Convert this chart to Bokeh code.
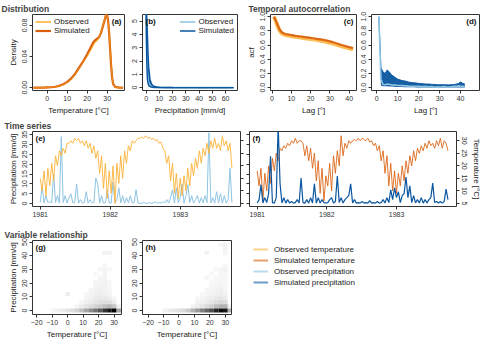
import numpy as np
from bokeh.plotting import figure
from bokeh.layouts import column, row, Spacer
from bokeh.models import (Range1d, LinearAxis, FixedTicker, Label, Legend,
                          LegendItem, PrintfTickFormatter)
from bokeh.embed import file_html
from bokeh.resources import INLINE

FONT = "Liberation Sans"
OBS_T = "#FDB338"
SIM_T = "#D95F0E"
OBS_P = "#8EC4E2"
SIM_P = "#0B56A0"

# ---------------- data ----------------
# (a) temperature density
temp_grid = [-7, -4, -2, 0, 2, 4, 6, 8, 10, 12, 14, 16, 18, 20, 22, 23, 24, 25, 26, 27,
             28, 29, 29.5, 30, 30.5, 31, 31.5, 32, 32.5, 33, 34, 36, 38]
obs_temp_dens = [0, 0, 0, 0.0003, 0.0005, 0.001, 0.002, 0.004, 0.007, 0.011, 0.017, 0.025,
                 0.033, 0.041, 0.05, 0.055, 0.059, 0.061, 0.065, 0.072, 0.081, 0.09, 0.094,
                 0.092, 0.085, 0.07, 0.05, 0.03, 0.014, 0.005, 0.001, 0, 0]
sim_temp_dens = [0, 0, 0, 0.0003, 0.0006, 0.0012, 0.0025, 0.0045, 0.0075, 0.012, 0.018, 0.026,
                 0.034, 0.043, 0.053, 0.058, 0.061, 0.063, 0.065, 0.071, 0.08, 0.089, 0.094,
                 0.093, 0.086, 0.07, 0.049, 0.028, 0.013, 0.005, 0.001, 0, 0]
# (b) precipitation density
prec_grid = [0, 0.5, 1, 1.5, 2, 3, 4, 5, 6, 8, 10, 15, 20, 30, 40, 50, 60, 66]
obs_prec_dens = [5.6, 3.0, 1.2, 0.6, 0.35, 0.18, 0.1, 0.06, 0.04, 0.02, 0.01, 0.005, 0.002,
                 0.001, 0, 0, 0, 0]
sim_prec_dens_lo = [5.6, 2.0, 0.6, 0.3, 0.15, 0.08, 0.04, 0.02, 0.01, 0.005, 0.002, 0, 0,
                    0, 0, 0, 0, 0]
sim_prec_dens_hi = [5.6, 5.4, 4.0, 2.5, 1.5, 0.6, 0.3, 0.15, 0.1, 0.05, 0.02, 0.01, 0.003,
                    0, 0, 0, 0, 0]
# (c), (d) autocorrelation
lags = list(range(1, 43))
obs_acf_temp = [1.0, 0.93, 0.86, 0.8, 0.765, 0.75, 0.74, 0.735, 0.73, 0.725,
                0.72, 0.715, 0.712, 0.708, 0.705, 0.7, 0.697, 0.693, 0.69, 0.685,
                0.68, 0.677, 0.673, 0.668, 0.663, 0.658, 0.652, 0.646, 0.64, 0.633,
                0.626, 0.618, 0.61, 0.6, 0.592, 0.584, 0.576, 0.568, 0.56, 0.553,
                0.546, 0.538]
sim_acf_temp = [1.0, 0.94, 0.875, 0.815, 0.78, 0.765, 0.755, 0.75, 0.745, 0.74,
                0.735, 0.73, 0.727, 0.723, 0.72, 0.716, 0.712, 0.708, 0.704, 0.7,
                0.696, 0.692, 0.688, 0.684, 0.68, 0.676, 0.671, 0.665, 0.659, 0.652,
                0.644, 0.636, 0.628, 0.619, 0.61, 0.601, 0.593, 0.585, 0.578, 0.571,
                0.564, 0.556]
obs_acf_prec = [1.0, 0.12, 0.045, 0.04, 0.05, 0.045, 0.04, 0.035, 0.035, 0.03,
                0.03, 0.028, 0.025, 0.025, 0.022, 0.02, 0.02, 0.018, 0.02, 0.018,
                0.015, 0.015, 0.018, 0.015, 0.012, 0.015, 0.012, 0.01, 0.012, 0.01,
                0.012, 0.015, 0.012, 0.01, 0.012, 0.015, 0.018, 0.02, 0.025, 0.02,
                0.018, 0.015]
sim_acf_prec_hi = [1.0, 0.28, 0.22, 0.2, 0.25, 0.22, 0.18, 0.16, 0.14, 0.12,
                   0.11, 0.1, 0.095, 0.09, 0.08, 0.075, 0.07, 0.068, 0.065, 0.06,
                   0.058, 0.055, 0.052, 0.05, 0.05, 0.048, 0.045, 0.045, 0.042, 0.04,
                   0.042, 0.04, 0.04, 0.038, 0.04, 0.042, 0.045, 0.05, 0.06, 0.08,
                   0.06, 0.05]
sim_acf_prec_lo = [1.0, 0.03, 0.02, 0.02, 0.02, 0.018, 0.015, 0.012, 0.01, 0.01,
                   0.008, 0.008, 0.006, 0.006, 0.005, 0.005, 0.004, 0.004, 0.003, 0.003,
                   0.003, 0.002, 0.002, 0.002, 0.002, 0.001, 0.001, 0.001, 0.001, 0.001,
                   0.001, 0.001, 0.001, 0.001, 0.001, 0.001, 0.001, 0.001, 0.002, 0.002,
                   0.001, 0.001]
# (e), (f) time series, one value per 10 days from 1 Jan 1981
ts_days = np.arange(0, 1010, 10)
obs_temp = [15, 10, 18, 8, 19, 12, 21, 14, 24, 20, 26, 24, 27, 25, 29, 29, 30, 29, 31, 30,
            31, 29, 30, 28, 30, 27, 29, 25, 28, 23, 26, 17, 24, 11, 21, 7, 18,
            9, 20, 5, 21, 13, 24, 15, 26, 21, 28, 26, 30, 29, 30, 31, 31, 31.5, 31, 32,
            31, 31.5, 30.5, 31, 30, 30.5, 29, 29.5, 27, 26, 21, 24, 14, 21, 9, 17, 7,
            15, 8, 16, 10, 19, 12, 21, 16, 23, 19, 26, 21, 27, 24, 29, 25, 30, 27, 31, 27,
            29, 26, 32, 28, 30, 26, 29, 19]
sim_temp = [18, 12, 19, 6, 17, 10, 20, 13, 23, 18, 25, 22, 27, 26, 28, 27, 29, 28, 30, 29,
            31, 29, 30, 30, 29, 24, 28, 22, 27, 19, 25, 14, 22, 9, 19, 6, 16,
            12, 21, 10, 24, 17, 26, 20, 32, 24, 29, 27, 30, 29, 30, 30.5, 30, 31, 30, 31,
            30.5, 30, 31, 29.5, 30, 28, 29, 26, 28, 22, 26, 17, 24, 12, 21, 10, 18,
            9, 17, 12, 20, 14, 22, 17, 24, 20, 26, 22, 27, 25, 28, 26, 29, 27, 30, 28, 29,
            27, 30, 28, 31, 27, 30, 29, 26]
obs_prec = [0.5, 9, 0.3, 4, 0.5, 1, 0.3, 15, 0.5, 4, 0.2, 34, 0.5, 4, 0.3, 3, 5, 0.3, 0.5, 10,
            0.2, 2, 0.2, 0.5, 6, 0.2, 2, 0.3, 0.5, 13, 10, 0.3, 4, 0.2, 0.5, 7, 0.3,
            0.3, 11, 0.5, 2, 8, 0.3, 4, 0.2, 3, 0.3, 4, 0.2, 0.5, 7, 0.3, 0.1, 0.2, 0.5,
            0.1, 0.2, 0.5, 0.1, 0.3, 1, 0.1, 0.5, 0.2, 1, 0.3, 2, 0.2, 3, 7, 0.3, 8, 0.5,
            3, 10, 0.3, 4, 9.6, 0.5, 4, 0.3, 2, 4, 0.2, 3, 0.3, 4, 0.5, 36, 0.3, 3, 0.2, 6,
            0.3, 5, 0.2, 4, 0.3, 2, 18, 0.5]
sim_prec = [0.3, 2, 9.6, 0.3, 3, 0.5, 5, 24, 0.5, 0.2, 3, 40, 10, 0.3, 3, 0.2, 2, 0.3, 1, 0.2,
            0.5, 2, 0.3, 13, 0.5, 0.2, 2, 0.2, 3, 0.3, 10, 0.2, 3, 0.3, 2, 0.5, 0.3,
            0.5, 2, 3, 0.3, 1, 14, 0.5, 3, 0.3, 2, 3, 4, 10, 0.3, 2, 0.2, 0.5, 0.2, 1,
            0.2, 0.5, 0.2, 1.5, 0.2, 0.5, 0.2, 1, 0.2, 0.5, 2, 0.3, 3, 0.5, 7, 2, 8,
            3, 6, 0.5, 4, 5, 13.5, 3, 9, 0.5, 4, 0.3, 2, 0.3, 3, 0.2, 2, 0.3, 2, 3, 10.4,
            0.5, 1, 0.3, 1, 0.2, 1, 7.3, 2]
year_ticks = [1981, 1982, 1983]
# (g) observed / (h) simulated joint histogram cells
g_temp = [-9, -6, -3, 0, 3, 6, 9, 12, 15, 18, 21, 24, 27, 30, 33,
          6, 9, 12, 15, 18, 21, 24, 27, 30, 33,
          9, 12, 15, 18, 21, 24, 27, 30,
          12, 15, 18, 21, 24, 27, 30,
          0, 12, 15, 18, 21, 24, 27,
          15, 18, 21, 24, 27,
          18, 21, 24, 27,
          18, 21, 24, 27,
          21, 24,
          18, 24,
          21, 24, 27,
          24,
          24, 27]
g_prec = [0, 0, 0, 0, 0, 0, 0, 0, 0, 0, 0, 0, 0, 0, 0,
          3, 3, 3, 3, 3, 3, 3, 3, 3, 3,
          6, 6, 6, 6, 6, 6, 6, 6,
          9, 9, 9, 9, 9, 9, 9,
          12, 12, 12, 12, 12, 12, 12,
          15, 15, 15, 15, 15,
          18, 18, 18, 18,
          21, 21, 21, 21,
          24, 24,
          27, 27,
          30, 30, 30,
          33,
          42, 42]
g_dens = [0.04, 0.06, 0.08, 0.1, 0.13, 0.17, 0.25, 0.35, 0.45, 0.55, 0.65, 0.8, 0.92, 1.0, 0.35,
          0.04, 0.07, 0.1, 0.13, 0.17, 0.2, 0.25, 0.28, 0.22, 0.05,
          0.04, 0.06, 0.08, 0.1, 0.12, 0.13, 0.12, 0.08,
          0.04, 0.06, 0.08, 0.09, 0.09, 0.07, 0.04,
          0.07, 0.03, 0.05, 0.06, 0.07, 0.06, 0.05,
          0.04, 0.05, 0.06, 0.05, 0.04,
          0.04, 0.05, 0.05, 0.03,
          0.04, 0.04, 0.05, 0.03,
          0.04, 0.04,
          0.03, 0.04,
          0.03, 0.04, 0.03,
          0.04,
          0.05, 0.05]
h_temp = [-9, -6, -3, 0, 3, 6, 9, 12, 15, 18, 21, 24, 27, 30, 33,
          9, 12, 15, 18, 21, 24, 27, 30, 33,
          12, 15, 18, 21, 24, 27, 30,
          12, 15, 18, 21, 24, 27, 30,
          15, 18, 21, 24, 27, 30,
          18, 21, 24, 27, 30,
          21, 24, 27, 30,
          21, 24, 27, 30,
          18, 24, 27, 30,
          21, 27, 30,
          24, 27, 30,
          30,
          18, 30,
          30,
          27, 30]
h_prec = [0, 0, 0, 0, 0, 0, 0, 0, 0, 0, 0, 0, 0, 0, 0,
          3, 3, 3, 3, 3, 3, 3, 3, 3,
          6, 6, 6, 6, 6, 6, 6,
          9, 9, 9, 9, 9, 9, 9,
          12, 12, 12, 12, 12, 12,
          15, 15, 15, 15, 15,
          18, 18, 18, 18,
          21, 21, 21, 21,
          24, 24, 24, 24,
          27, 27, 27,
          30, 30, 30,
          33,
          42, 42,
          45,
          48, 48]
h_dens = [0.05, 0.08, 0.1, 0.12, 0.15, 0.2, 0.3, 0.4, 0.5, 0.6, 0.7, 0.85, 0.95, 0.9, 0.3,
          0.05, 0.08, 0.1, 0.14, 0.18, 0.25, 0.3, 0.3, 0.05,
          0.05, 0.06, 0.08, 0.1, 0.13, 0.15, 0.14,
          0.03, 0.04, 0.06, 0.07, 0.09, 0.1, 0.08,
          0.03, 0.04, 0.05, 0.06, 0.07, 0.05,
          0.04, 0.04, 0.05, 0.06, 0.04,
          0.04, 0.04, 0.05, 0.04,
          0.03, 0.04, 0.04, 0.03,
          0.04, 0.03, 0.04, 0.04,
          0.03, 0.03, 0.03,
          0.03, 0.04, 0.05,
          0.03,
          0.05, 0.04,
          0.05,
          0.04, 0.05]
legend_labels = ["Observed temperature", "Simulated temperature",
                 "Observed precipitation", "Simulated precipitation"]
legend_colors = [OBS_T, SIM_T, OBS_P, SIM_P]

ts_year = 1981 + ts_days / 365.25


# ---------------- helpers ----------------
def make_fig(w, h, l, r, t, b, xr, yr, title=None, toff=0):
    p = figure(width=w, height=h, min_border=0, min_border_left=l, min_border_right=r,
               min_border_top=t, min_border_bottom=b, x_range=Range1d(*xr),
               y_range=Range1d(*yr), output_backend="svg", toolbar_location=None, tools="")
    p.xgrid.visible = False
    p.ygrid.visible = False
    p.outline_line_color = "#333333"
    p.outline_line_alpha = 1
    p.outline_line_width = 1
    p.background_fill_color = "white"
    p.border_fill_color = "white"
    if title:
        p.title.text = title
        p.title.text_font = FONT
        p.title.text_font_size = "8.5px"
        p.title.text_font_style = "bold"
        p.title.align = "left"
        p.title.offset = toff
        p.title.standoff = 2
    return p


def style_axis(ax, ticks, label=None, fmt=None, show=True, vertical=False):
    ax.ticker = FixedTicker(ticks=ticks)
    ax.minor_tick_line_color = None
    ax.axis_line_color = None
    ax.major_tick_line_color = "#333333"
    ax.major_tick_in = 0
    ax.major_tick_out = 3
    ax.major_label_standoff = 2
    ax.major_label_text_font = FONT
    ax.major_label_text_color = "#333333"
    if show:
        ax.major_label_text_font_size = "7px"
    else:
        ax.major_label_text_font_size = "1px"
        ax.major_label_text_color = None
        ax.major_label_standoff = 0
    if fmt:
        ax.formatter = PrintfTickFormatter(format=fmt)
    if vertical:
        ax.major_label_orientation = "vertical"
    if label:
        ax.axis_label = label
        ax.axis_label_text_font = FONT
        ax.axis_label_text_font_size = "8px"
        ax.axis_label_text_font_style = "normal"
        ax.axis_label_text_color = "#222222"
        ax.axis_label_standoff = 2


def panel_label(p, text, side):
    if side == "right":
        lab = Label(x=p.x_range.end, y=p.y_range.end, x_offset=-3, y_offset=-2,
                    text_align="right", text_baseline="top", text=text)
    else:
        lab = Label(x=p.x_range.start, y=p.y_range.end, x_offset=3, y_offset=-2,
                    text_align="left", text_baseline="top", text=text)
    lab.text_font = FONT
    lab.text_font_size = "8px"
    lab.text_font_style = "bold"
    lab.text_color = "#111111"
    p.add_layout(lab)


def style_legend(lg):
    lg.label_text_font = FONT
    lg.label_text_font_size = "8px"
    lg.label_text_color = "#222222"
    lg.label_height = 7
    lg.glyph_height = 7
    lg.glyph_width = 16
    lg.label_standoff = 3
    lg.spacing = 0
    lg.padding = 1
    lg.margin = 3
    lg.background_fill_alpha = 0
    lg.border_line_color = None


# ---------------- row 1 ----------------
pa = make_fig(129, 117, 32, 5, 13, 24, (-7.4, 38.7), (-0.0036, 0.094),
              "Distribution", -31)
pa.line(temp_grid, obs_temp_dens, color=OBS_T, line_width=1.6, legend_label="Observed")
pa.line(temp_grid, sim_temp_dens, color=SIM_T, line_width=2.2, legend_label="Simulated")
pa.line(temp_grid, obs_temp_dens, color=OBS_T, line_width=0.8, alpha=0.7)
style_axis(pa.xaxis[0], [0, 10, 20, 30], "Temperature [°C]")
style_axis(pa.yaxis[0], [0, 0.04, 0.08], "Density", fmt="%.2f", vertical=True)
pa.legend.location = "top_left"
style_legend(pa.legend[0])
panel_label(pa, "(a)", "right")

pb = make_fig(114, 117, 13, 6, 13, 24, (-2.7, 69), (-0.22, 5.5))
pb.varea(x=prec_grid, y1=sim_prec_dens_lo, y2=sim_prec_dens_hi, fill_color=SIM_P,
         fill_alpha=0.9)
pb.line(prec_grid, obs_prec_dens, color=OBS_P, line_width=1.6, legend_label="Observed")
pb.line(prec_grid, sim_prec_dens_hi, color=SIM_P, line_width=1.4, legend_label="Simulated")
pb.line(prec_grid, sim_prec_dens_lo, color=SIM_P, line_width=1.4)
style_axis(pb.xaxis[0], [0, 10, 20, 30, 40, 50, 60], "Precipitation [mm/d]")
style_axis(pb.yaxis[0], [0, 1, 2, 3, 4, 5], vertical=True)
pb.legend.location = "top_right"
style_legend(pb.legend[0])
panel_label(pb, "(b)", "left")

pc = make_fig(115, 117, 21, 2, 13, 24, (-0.8, 43.8), (-0.04, 1.03),
              "Temporal autocorrelation", -22)
pc.line(lags, obs_acf_temp, color=OBS_T, line_width=4, alpha=0.85)
pc.line(lags, sim_acf_temp, color=SIM_T, line_width=2.2, alpha=0.9)
style_axis(pc.xaxis[0], [0, 10, 20, 30, 40], "Lag [°]")
style_axis(pc.yaxis[0], [0, 0.2, 0.4, 0.6, 0.8, 1.0], "acf", fmt="%.1f", vertical=True)
panel_label(pc, "(c)", "right")

pd_ = make_fig(126, 117, 13, 5, 13, 24, (-2.5, 49), (-0.04, 1.03))
pd_.varea(x=lags, y1=sim_acf_prec_lo, y2=sim_acf_prec_hi, fill_color=SIM_P, fill_alpha=0.95)
pd_.line(lags, sim_acf_prec_hi, color=SIM_P, line_width=1)
pd_.line(lags, obs_acf_prec, color=OBS_P, line_width=1.6)
style_axis(pd_.xaxis[0], [0, 10, 20, 30, 40], "Lag [°]")
style_axis(pd_.yaxis[0], [0, 0.2, 0.4, 0.6, 0.8, 1.0], fmt="%.1f", vertical=True)
panel_label(pd_, "(d)", "right")

# ---------------- row 2 ----------------
TS_X = (1980.89, 1983.86)
P_Y = (-1.5, 36.6)
T_Y = (3.75, 33.7)

pe = make_fig(245, 109, 32, 5, 11, 20, TS_X, P_Y, "Time series", -28)
pe.extra_y_ranges = {"temp": Range1d(*T_Y)}
pe.line(ts_year, obs_prec, color=OBS_P, line_width=1)
pe.line(ts_year, obs_temp, color=OBS_T, line_width=1, alpha=0.9, y_range_name="temp")
style_axis(pe.xaxis[0], year_ticks)
style_axis(pe.yaxis[0], [0, 5, 10, 15, 20, 25, 30, 35], "Precipitation [mm/d]", vertical=True)
ax_er = LinearAxis(y_range_name="temp")
style_axis(ax_er, [5, 10, 15, 20, 25, 30], show=False)
pe.add_layout(ax_er, "right")
panel_label(pe, "(e)", "left")

pf = make_fig(239, 109, 4, 28, 11, 20, TS_X, P_Y)
pf.extra_y_ranges = {"temp": Range1d(*T_Y)}
pf.line(ts_year, sim_temp, color=SIM_T, line_width=1, alpha=0.85, y_range_name="temp")
pf.line(ts_year, sim_prec, color=SIM_P, line_width=1.2)
style_axis(pf.xaxis[0], year_ticks)
style_axis(pf.yaxis[0], [0, 5, 10, 15, 20, 25, 30, 35], show=False)
ax_fr = LinearAxis(y_range_name="temp")
style_axis(ax_fr, [5, 10, 15, 20, 25, 30], "Temperature [°C]", vertical=True)
pf.add_layout(ax_fr, "right")
panel_label(pf, "(f)", "left")

# ---------------- row 3 ----------------
pg = make_fig(126, 115, 32, 5, 12, 27, (-22.7, 34.8), (-2.9, 51.1),
              "Variable relationship", -28)
pg.rect(x=g_temp, y=g_prec, width=3, height=3, fill_color="black", fill_alpha=g_dens,
        line_color=None)
style_axis(pg.xaxis[0], [-20, -10, 0, 10, 20, 30], "Temperature [°C]")
style_axis(pg.yaxis[0], [0, 10, 20, 30, 40, 50], "Precipitation [mm/d]", vertical=True)
panel_label(pg, "(g)", "left")

ph = make_fig(114, 115, 16, 9, 12, 27, (-23.6, 34), (-2.9, 51.1))
ph.rect(x=h_temp, y=h_prec, width=3, height=3, fill_color="black", fill_alpha=h_dens,
        line_color=None)
style_axis(ph.xaxis[0], [-20, -10, 0, 10, 20, 30], "Temperature [°C]")
style_axis(ph.yaxis[0], [0, 10, 20, 30, 40, 50], vertical=True)
panel_label(ph, "(h)", "left")

pl = figure(width=231, height=97, x_range=Range1d(0, 1), y_range=Range1d(0, 1),
            min_border=0, toolbar_location=None, tools="", output_backend="svg",
            x_axis_location=None, y_axis_location=None)
pl.grid.visible = False
pl.outline_line_color = None
items = []
for lab, col in zip(legend_labels, legend_colors):
    r = pl.line(x=[np.nan, np.nan], y=[np.nan, np.nan], color=col, line_width=2, alpha=0.6)
    items.append(LegendItem(label=lab, renderers=[r]))
leg = Legend(items=items, location="top_left")
style_legend(leg)
leg.label_height = 10
leg.glyph_height = 10
leg.glyph_width = 15
leg.label_standoff = 6
leg.spacing = 1
leg.margin = 0
leg.padding = 0
pl.add_layout(leg)

layout = column(row(pa, pb, pc, pd_), row(pe, pf),
                row(pg, ph, Spacer(width=13, height=115),
                    column(Spacer(width=231, height=18), pl)))

open("out.html", "w").write(file_html(layout, INLINE))
